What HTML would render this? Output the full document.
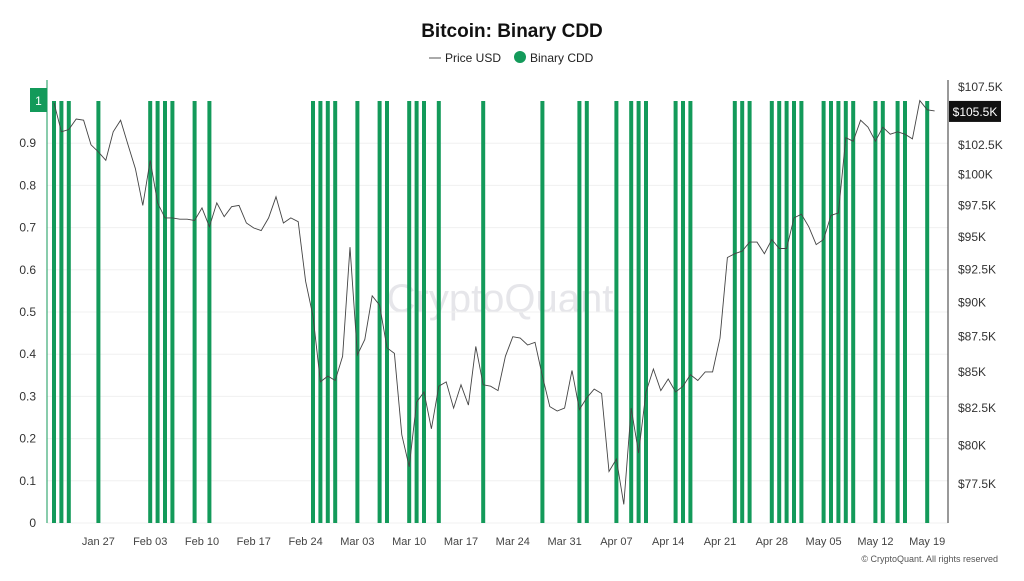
<!DOCTYPE html>
<html><head><meta charset="utf-8"><style>
html,body{margin:0;padding:0;background:#fff;}
body{width:1024px;height:576px;overflow:hidden;font-family:"Liberation Sans",sans-serif;}
</style></head><body>
<svg id="chart" width="1024" height="576" xmlns="http://www.w3.org/2000/svg" font-family="Liberation Sans, sans-serif">
<text x="512" y="37" text-anchor="middle" font-size="19" font-weight="bold" fill="#111">Bitcoin: Binary CDD</text>
<g>
<g><line x1="429" y1="58" x2="441" y2="58" stroke="#555" stroke-width="1"/><text x="445" y="62" font-size="12" fill="#222">Price USD</text></g>
<g><circle cx="520" cy="57" r="6" fill="#139a5a"/><text x="530" y="62" font-size="12" fill="#222">Binary CDD</text></g>
</g>
<text x="500" y="312" text-anchor="middle" font-size="40" fill="#e6e6ea">CryptoQuant</text>
<g id="grid"></g><g id="bars"></g><g id="line"></g><g id="axes"></g>
<text x="998" y="562" text-anchor="end" font-size="9" fill="#555">© CryptoQuant. All rights reserved</text>
</svg>
<script>
const cddDays=[0,1,2,6,13,14,15,16,19,21,35,36,37,38,41,44,45,48,49,50,52,58,66,71,72,76,78,79,80,84,85,86,92,93,94,97,98,99,100,101,104,105,106,107,108,111,112,114,115,118];
const priceValues=[106.1,103.6,103.8,104.7,104.6,102.5,101.9,101.2,103.6,104.6,102.5,100.5,97.5,101.2,97.7,96.5,96.5,96.4,96.4,96.3,97.3,95.8,97.7,96.6,97.4,97.5,96.1,95.7,95.5,96.5,98.2,96.1,96.5,96.2,
91.6,89.0,84.3,84.7,84.4,86.1,94.2,86.2,87.3,90.5,89.8,86.7,86.3,80.7,78.6,82.9,83.6,81.1,84.0,84.3,82.5,84.1,82.7,86.8,84.1,84.0,83.7,86.1,87.5,87.4,86.9,87.1,84.7,82.6,82.3,82.5,85.1,82.4,83.2,83.8,83.5,78.3,79.1,76.2,
82.5,79.5,83.6,85.2,83.7,84.5,83.6,84.0,84.8,84.4,85.0,85.0,87.4,93.4,93.7,93.9,94.6,94.6,93.7,94.8,94.1,94.1,96.5,96.8,95.8,94.4,94.8,96.7,96.9,103.1,102.8,104.6,104.0,102.8,104.0,103.4,103.6,103.4,103.0,106.3,105.5,105.4];
const leftTicks=[0,0.1,0.2,0.3,0.4,0.5,0.6,0.7,0.8,0.9];
const rightTicks=[77.5,80,82.5,85,87.5,90,92.5,95,97.5,100,102.5,107.5];
const rightLabels=["$77.5K","$80K","$82.5K","$85K","$87.5K","$90K","$92.5K","$95K","$97.5K","$100K","$102.5K","$107.5K"];
const xTickDays=[6,13,20,27,34,41,48,55,62,69,76,83,90,97,104,111,118];
const xTickLabels=["Jan 27","Feb 03","Feb 10","Feb 17","Feb 24","Mar 03","Mar 10","Mar 17","Mar 24","Mar 31","Apr 07","Apr 14","Apr 21","Apr 28","May 05","May 12","May 19"];
const lastPriceLabel="$105.5K";

const NS="http://www.w3.org/2000/svg";
function xs(d){return 54+7.4*d;}
function yl(v){return 523-422*v;}
function yr(p){return 87+(Math.log(107.5)-Math.log(p))*1213;}
function mk(tag,attrs,parent){const e=document.createElementNS(NS,tag);for(const k in attrs)e.setAttribute(k,attrs[k]);parent.appendChild(e);return e;}
const grid=document.getElementById('grid'),bars=document.getElementById('bars'),line=document.getElementById('line'),axes=document.getElementById('axes');

leftTicks.forEach((t,i)=>{
  const y=yl(t);
  const g=mk('line',{x1:47,x2:948,y1:y,y2:y,stroke:'#f0f0f0','stroke-width':1},grid);
  
  
  const tx=mk('text',{x:36,y:y+4,'text-anchor':'end','font-size':12,fill:'#333'},axes);
  tx.textContent=String(t);
  
  
});
cddDays.forEach(d=>{
  const b=mk('rect',{x:xs(d)-2,y:yl(1),width:4,height:yl(0)-yl(1),fill:'#139a5a'},bars);
  
  
});
const pts=priceValues.map((p,i)=>xs(i).toFixed(1)+','+yr(p).toFixed(1));
const pl=mk('polyline',{points:pts.join(' '),fill:'none',stroke:'#444','stroke-width':0.9},line);



const la=mk('line',{x1:47,x2:47,y1:80,y2:523,stroke:'#139a5a','stroke-width':1},axes);


const ra=mk('line',{x1:948,x2:948,y1:80,y2:523,stroke:'#333','stroke-width':1},axes);


rightTicks.forEach((p,i)=>{
  const t=mk('text',{x:958,y:yr(p)+4,'font-size':12,fill:'#333'},axes);
  t.textContent=rightLabels[i];
  
  
});
xTickDays.forEach((d,i)=>{
  const t=mk('text',{x:xs(d),y:545,'text-anchor':'middle','font-size':11,fill:'#444'},axes);
  t.textContent=xTickLabels[i];
  
  
});
// badges
const ob=mk('rect',{x:30,y:88,width:17,height:24,fill:'#139a5a'},axes);


const ot=mk('text',{x:38.5,y:105,'text-anchor':'middle','font-size':12,fill:'#fff'},axes);
ot.textContent='1';


const py=yr(priceValues[priceValues.length-1]);
const pb=mk('rect',{x:949,y:py-10,width:52,height:21,fill:'#111'},axes);


const pt=mk('text',{x:975,y:py+5,'text-anchor':'middle','font-size':12,fill:'#fff'},axes);
pt.textContent=lastPriceLabel;


</script>
</body></html>
